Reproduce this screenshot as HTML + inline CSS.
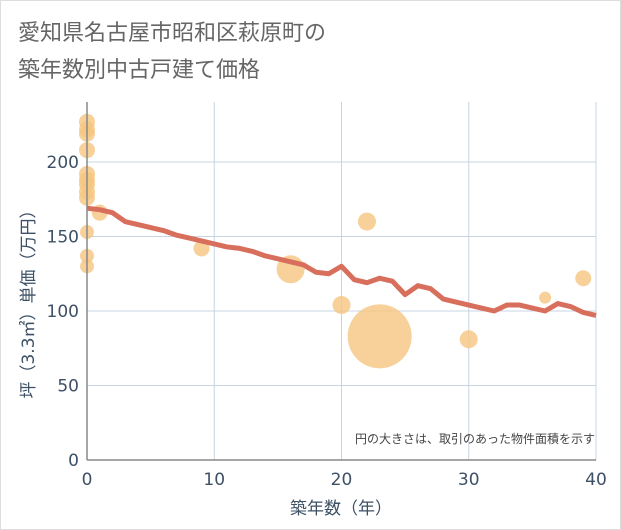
<!DOCTYPE html>
<html><head><meta charset="utf-8"><style>
body{margin:0;background:#fff;font-family:"Liberation Sans","Noto Sans CJK JP",sans-serif}
#wrap{position:relative;width:621px;height:530px;overflow:hidden}
#frame{position:absolute;left:0;top:0;width:619px;height:528px;border:1px solid #ddd}
</style></head><body>
<div id="wrap">
<div id="frame"></div>
<svg id="svg" width="621" height="530" style="position:absolute;left:0;top:0">
<text x="18" y="40" font-size="22" fill="#666">愛知県名古屋市昭和区萩原町の</text>
<text x="18" y="77" font-size="22" fill="#666">築年数別中古戸建て価格</text>
<g id="grid"></g><g id="bubbles"></g><g id="line"></g><g id="axes"></g>
<text x="595" y="443" font-size="12" fill="#444" text-anchor="end">円の大きさは、取引のあった物件面積を示す</text>
<text x="341" y="514" font-size="17" fill="#3d5066" text-anchor="middle" font-family="DejaVu Sans, Noto Sans CJK JP, sans-serif">築年数（年）</text>
<text transform="translate(34,300) rotate(-90)" font-size="17" fill="#3d5066" text-anchor="middle" font-family="DejaVu Sans, Noto Sans CJK JP, sans-serif">坪（3.3㎡）単価（万円）</text>
</svg></div>
<script>
const xTicks=[0,10,20,30,40];
const yTicks=[0,50,100,150,200];
const lineYears=[0,1,2,3,4,5,6,7,8,9,10,11,12,13,14,15,16,17,18,19,20,21,22,23,24,25,26,27,28,29,30,31,32,33,34,35,36,37,38,39,40];
const lineValues=[169,168,166,160,158,156,154,151,149,147,145,143,142,140,137,135,133,131,126,125,130,121,119,122,120,111,117,115,108,106,104,102,100,104,104,102,100,105,103,99,97];
const bubbleX=[0,0,0,0,0,0,0,0,0,0,0,0,1,9,16,20,22,23,30,36,39];
const bubbleY=[227,222,219,208,192,188,185,180,176,153,137,130,166,142,128,104,160,83,81,109,122];
const bubbleR=[8,8,8,8,8,8,8,8,8,7,7,7,8,8,14,9,9,32,9,6,8];
const L=87,R=596,T=102,B=460;
const sx=v=>L+(v/40)*(R-L), sy=v=>B-v*1.49;
const ns="http://www.w3.org/2000/svg";
const tf="DejaVu Sans, sans-serif";
function mk(t,a,p){const e=document.createElementNS(ns,t);for(const k in a)e.setAttribute(k,a[k]);p.appendChild(e);return e;}
const g=document.getElementById('grid'),ax=document.getElementById('axes');
xTicks.forEach(v=>{const l=mk('line',{x1:sx(v),x2:sx(v),y1:T,y2:B,stroke:'#c8d4e4','stroke-width':1},g);

const t=mk('text',{x:sx(v),y:B+25,'font-size':17,fill:'#3d5066','text-anchor':'middle','font-family':tf},ax);t.textContent=v;
});
yTicks.forEach(v=>{const l=mk('line',{x1:L,x2:R,y1:sy(v),y2:sy(v),stroke:'#c8d4e4','stroke-width':1},g);

const t=mk('text',{x:L-8,y:sy(v)+6,'font-size':17,fill:'#3d5066','text-anchor':'end','font-family':tf},ax);t.textContent=v;
});
const ya=mk('line',{x1:L,x2:L,y1:T,y2:B,stroke:'#888','stroke-width':1.5},ax);

const xa=mk('line',{x1:L,x2:R,y1:B,y2:B,stroke:'#888','stroke-width':1.5},ax);

const bg=document.getElementById('bubbles');
bubbleX.forEach((x,i)=>{const c=mk('circle',{cx:sx(x),cy:sy(bubbleY[i]),r:bubbleR[i],fill:'#f5c57f','fill-opacity':0.8},bg);
});
const p=mk('polyline',{points:lineYears.map((x,i)=>sx(x)+','+sy(lineValues[i])).join(' '),fill:'none',stroke:'#d86f5d','stroke-width':5,'stroke-linejoin':'round'},document.getElementById('line'));

</script></body></html>
